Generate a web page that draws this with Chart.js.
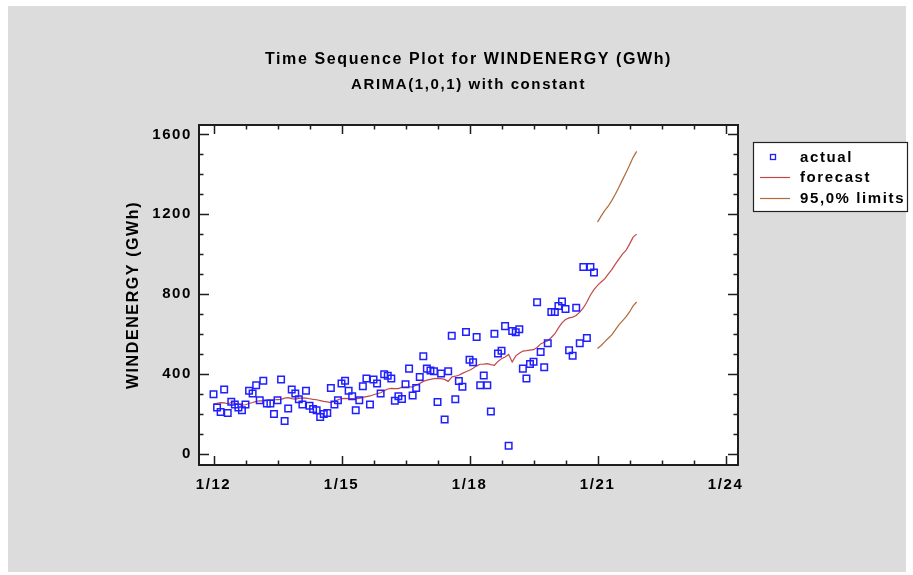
<!DOCTYPE html>
<html><head><meta charset="utf-8">
<script src="https://cdn.jsdelivr.net/npm/chart.js@4.4.0/dist/chart.umd.min.js"></script>
<style>
html,body{margin:0;padding:0;background:#fff;width:913px;height:575px;overflow:hidden}
#bg{position:absolute;left:8px;top:6px;width:898px;height:566px;background:#dcdcdc}
#wrap{position:absolute;left:0;top:0;width:913px;height:575px}
</style></head><body>
<div id="bg"></div>
<div id="wrap"><canvas id="c" width="913" height="575"></canvas></div>
<script>
const titleText = 'Time Sequence Plot for WINDENERGY (GWh)';
const subtitleText = 'ARIMA(1,0,1) with constant';
const yAxisTitle = 'WINDENERGY (GWh)';
// x axis: months counted from January 2012; labels every 36 months
const xTickLabels = ['1/12', '1/15', '1/18', '1/21', '1/24'];
const legendLabels = ['actual', 'forecast', '95,0% limits'];

// monthly actual values, Jan 2012 .. Dec 2020
const actual = [
  298,231,209,322,204,260,246,231,218,246,
  315,301,343,268,365,251,251,198,268,372,
  163,226,322,301,272,246,315,240,224,218,
  184,198,204,329,246,268,351,365,315,288,
  218,268,338,376,246,372,351,301,398,390,
  376,265,288,274,348,426,291,329,384,488,
  426,417,413,259,401,171,413,591,272,364,
  335,609,471,458,585,343,391,343,211,601,
  502,516,639,39,614,608,623,426,377,449,
  461,759,509,433,553,710,710,740,762,725,
  518,491,731,553,935,580,935,908
];
// one-step-ahead forecasts Jan 2012 .. Dec 2020, then forecasts Jan 2021 .. Dec 2021
const forecast = [
  248,252,256,254,250,256,252,248,243,245,
  251,256,262,265,264,266,268,270,271,272,
  278,281,276,273,277,279,278,275,272,270,
  266,262,259,256,262,270,276,277,276,276,
  275,277,282,286,289,295,300,305,315,324,
  327,326,326,333,334,335,334,343,352,362,
  368,372,376,377,376,372,362,384,388,393,
  402,410,418,428,440,448,449,451,446,443,
  462,476,484,497,459,490,503,514,516,519,
  521,532,550,558,566,582,601,630,655,672,
  680,684,692,709,730,760,795,822,843,860,
  876,900,922,950,975,1000,1018,1050,1085,1100
];
// 95% limits for Jan 2021 .. Dec 2021
const forecastStart = 108;
const upperLimit = [1160,1190,1218,1240,1268,1300,1335,1372,1408,1445,1485,1515];
const lowerLimit = [527,542,560,578,595,620,645,665,685,710,740,760];

const FONT = "'Liberation Sans', Arial, Helvetica, sans-serif";
Chart.defaults.font.family = FONT;

const actualPts = actual.map((v, i) => ({x: i, y: v}));
const forecastPts = forecast.map((v, i) => ({x: i, y: v}));
const upperPts = upperLimit.map((v, i) => ({x: forecastStart + i, y: v}));
const lowerPts = lowerLimit.map((v, i) => ({x: forecastStart + i, y: v}));

const COL_ACT = '#1f1fff';
const COL_FC = '#c24848';
const COL_LIM = '#b06a38';
const COL_AX = '#1e1e1e';

const framePlugin = {
  id: 'frame',
  beforeDraw(chart) {
    const {ctx, chartArea: a} = chart;
    ctx.letterSpacing = '1.6px';
    ctx.save();
    ctx.fillStyle = '#ffffff';
    ctx.fillRect(a.left, a.top, a.right - a.left, a.bottom - a.top);
    ctx.restore();
  },
  afterDatasetsDraw(chart) {
    const {ctx, chartArea: a, scales} = chart;
    ctx.save();
    ctx.strokeStyle = COL_AX;
    ctx.lineWidth = 1.5;
    const xs = scales.x, ys = scales.y;
    xs.ticks.forEach(t => {
      const p = Math.round(xs.getPixelForValue(t.value)) + 0.5;
      const len = (t.value % 36 === 0) ? 9 : 4.5;
      ctx.beginPath();
      ctx.moveTo(p, a.bottom); ctx.lineTo(p, a.bottom - len);
      ctx.moveTo(p, a.top); ctx.lineTo(p, a.top + len);
      ctx.stroke();
    });
    ys.ticks.forEach(t => {
      const p = Math.round(ys.getPixelForValue(t.value)) + 0.5;
      const len = (t.value % 400 === 0) ? 10 : 4.5;
      ctx.beginPath();
      ctx.moveTo(a.left, p); ctx.lineTo(a.left + len, p);
      ctx.moveTo(a.right, p); ctx.lineTo(a.right - len, p);
      ctx.stroke();
    });
    ctx.lineWidth = 2;
    ctx.strokeRect(a.left, a.top, a.right - a.left, a.bottom - a.top);
    ctx.restore();
  }
};

const legendPlugin = {
  id: 'customLegend',
  afterDraw(chart) {
    const {ctx, chartArea: a} = chart;
    const ds = chart.data.datasets;
    const bx = a.right + 15, by = a.top + 17, bw = 154, bh = 69;
    ctx.save();
    ctx.fillStyle = '#ffffff';
    ctx.fillRect(bx, by, bw, bh);
    ctx.strokeStyle = '#222';
    ctx.lineWidth = 1.2;
    ctx.strokeRect(bx + 0.5, by + 0.5, bw, bh);
    const rows = [by + 15, by + 35, by + 56];
    ctx.font = 'bold 15px ' + FONT;
    ctx.letterSpacing = '1.6px';
    ctx.textBaseline = 'middle';
    ctx.textAlign = 'left';
    ctx.fillStyle = '#000';
    legendLabels.forEach((lab, i) => {
      const y = rows[i];
      ctx.fillText(lab, bx + 47, y + 0.5);
    });
    // actual marker
    ctx.strokeStyle = ds[0].borderColor;
    ctx.lineWidth = 1.3;
    ctx.strokeRect(bx + 17.5, rows[0] - 2.5, 5, 5);
    // forecast line
    ctx.strokeStyle = ds[1].borderColor;
    ctx.lineWidth = 1.2;
    ctx.beginPath(); ctx.moveTo(bx + 7, rows[1] + 0.5); ctx.lineTo(bx + 37, rows[1] + 0.5); ctx.stroke();
    ctx.strokeStyle = ds[2].borderColor;
    ctx.beginPath(); ctx.moveTo(bx + 7, rows[2] + 0.5); ctx.lineTo(bx + 37, rows[2] + 0.5); ctx.stroke();
    ctx.restore();
  }
};

new Chart(document.getElementById('c'), {
  type: 'scatter',
  data: {
    datasets: [
      {label: legendLabels[0], data: actualPts, showLine: false, pointStyle: 'rect',
       pointRadius: 4.6, pointHoverRadius: 4.6, pointBorderWidth: 1.5, borderColor: COL_ACT,
       backgroundColor: 'rgba(0,0,0,0)', order: 0},
      {label: legendLabels[1], data: forecastPts, showLine: true, borderColor: COL_FC,
       backgroundColor: COL_FC, borderWidth: 1.2, pointRadius: 0, tension: 0, order: 1},
      {label: legendLabels[2], data: upperPts, showLine: true, borderColor: COL_LIM,
       backgroundColor: COL_LIM, borderWidth: 1.2, pointRadius: 0, order: 2},
      {label: legendLabels[2], data: lowerPts, showLine: true, borderColor: COL_LIM,
       backgroundColor: COL_LIM, borderWidth: 1.2, pointRadius: 0, order: 2}
    ]
  },
  options: {
    responsive: false,
    animation: false,
    devicePixelRatio: 1,
    layout: {padding: {left: 119, right: 175, top: 0, bottom: 0}},
    plugins: {
      legend: {display: false},
      tooltip: {enabled: false},
      title: {display: true, text: titleText, fullSize: false, color: '#000',
        font: {family: FONT, size: 16, weight: 'bold', lineHeight: 1.2},
        padding: {top: 50.4, bottom: 0}},
      subtitle: {display: true, text: subtitleText, fullSize: false, color: '#000',
        font: {family: FONT, size: 15, weight: 'bold', lineHeight: 1.2},
        padding: {top: 6.4, bottom: 31}}
    },
    scales: {
      x: {
        type: 'linear', min: -4.08, max: 147.5,
        grid: {display: false, drawTicks: false},
        border: {display: false},
        afterBuildTicks: s => { s.ticks = []; for (let v = 0; v <= 144; v += 9) s.ticks.push({value: v}); },
        afterFit: s => { s.height = 110; },
        ticks: {autoSkip: false, maxRotation: 0, minRotation: 0, padding: 11, color: '#000',
          font: {family: FONT, size: 15, weight: 'bold', lineHeight: 1.2},
          callback: v => (v % 36 === 0 ? xTickLabels[v / 36] : '')}
      },
      y: {
        min: -57, max: 1647,
        grid: {display: false, drawTicks: false},
        border: {display: false},
        afterBuildTicks: s => { s.ticks = []; for (let v = 0; v <= 1600; v += 100) s.ticks.push({value: v}); },
        afterFit: s => { s.width = 80; },
        ticks: {autoSkip: false, padding: 7, color: '#000',
          font: {family: FONT, size: 15, weight: 'bold', lineHeight: 1.2},
          callback: v => (v % 400 === 0 ? String(v) : '')},
        title: {display: true, text: yAxisTitle, color: '#000',
          font: {family: FONT, size: 16, weight: 'bold', lineHeight: 1.2},
          padding: {top: 5.4, bottom: 0}}
      }
    }
  },
  plugins: [framePlugin, legendPlugin]
});
</script>
</body></html>
